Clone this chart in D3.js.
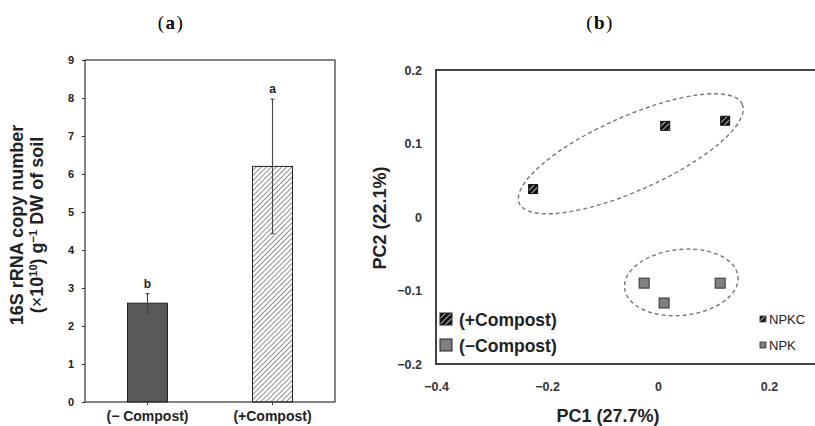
<!DOCTYPE html>
<html>
<head>
<meta charset="utf-8">
<script src="https://cdn.jsdelivr.net/npm/d3@7"></script>
<style>
  body { margin: 0; background: #fff; }
  svg { display: block; font-family: "Liberation Sans", Arial, sans-serif; }
</style>
</head>
<body>
<svg width="815" height="426"></svg>
<script>
// ---- data, panel (a)
const groups = ['(− Compost)', '(+Compost)'];
const copyNumber = [2.6, 6.2];
const copyErr = [0.25, 1.77];
const letters = ['b', 'a'];
const yTicksA = [0, 1, 2, 3, 4, 5, 6, 7, 8, 9];

// ---- data, panel (b)
const plusPC1 = [-0.225, 0.013, 0.121];
const plusPC2 = [0.038, 0.124, 0.131];
const minusPC1 = [-0.025, 0.011, 0.112];
const minusPC2 = [-0.090, -0.117, -0.090];
const xTicksB = [-0.4, -0.2, 0, 0.2];
const yTicksB = [-0.2, -0.1, 0, 0.1, 0.2];
// ellipse centres (PC1, PC2)
const ellCx = [-0.049, 0.042];
const ellCy = [0.086, -0.089];

const svg = d3.select('svg');
const defs = svg.append('defs');

defs.append('pattern')
    .attr('id', 'barHatch')
    .attr('patternUnits', 'userSpaceOnUse')
    .attr('width', 3.6).attr('height', 3.6)
    .attr('patternTransform', 'rotate(45)')
    .call(p => {
        p.append('rect').attr('width', 3.6).attr('height', 3.6).attr('fill', '#fff');
        p.append('line').attr('x1', 0).attr('y1', 0).attr('x2', 0).attr('y2', 3.6)
            .attr('stroke', '#555').attr('stroke-width', 1.3);
    });

defs.append('pattern')
    .attr('id', 'dotHatch')
    .attr('patternUnits', 'userSpaceOnUse')
    .attr('width', 4).attr('height', 4)
    .attr('patternTransform', 'rotate(45)')
    .call(p => {
        p.append('rect').attr('width', 4).attr('height', 4).attr('fill', '#111');
        p.append('line').attr('x1', 0).attr('y1', 0).attr('x2', 0).attr('y2', 4)
            .attr('stroke', '#fff').attr('stroke-width', 1.4);
    });

// ================= panel (a)
const a = {l: 85, r: 335, t: 60, b: 402};

const xA = d3.scaleBand()
    .domain(groups)
    .range([a.l, a.r])
    .paddingInner(0.68)
    .paddingOuter(0.34);

const yA = d3.scaleLinear()
    .domain([0, 9])
    .range([a.b, a.t]);

svg.append('text')
    .attr('x', 171).attr('y', 29)
    .attr('text-anchor', 'middle')
    .style('font-family', '"Liberation Serif", serif')
    .style('font-size', '19px')
    .style('letter-spacing', '1.5px')
    .html('(<tspan font-weight="bold">a</tspan>)');

// bars
svg.append('g').selectAll('rect')
    .data(groups)
    .join('rect')
    .attr('x', d => xA(d))
    .attr('width', xA.bandwidth())
    .attr('y', (d, i) => yA(copyNumber[i]))
    .attr('height', (d, i) => yA(0) - yA(copyNumber[i]))
    .attr('fill', (d, i) => i === 0 ? '#595959' : 'url(#barHatch)')
    .attr('stroke', '#222')
    .attr('stroke-width', 1);

// frame
svg.append('rect')
    .attr('x', a.l).attr('y', a.t)
    .attr('width', a.r - a.l).attr('height', a.b - a.t)
    .attr('fill', 'none').attr('stroke', '#333').attr('stroke-width', 1.2);

// error bars
const errG = svg.append('g').attr('stroke', '#444').attr('stroke-width', 1.1);
groups.forEach((g, i) => {
    const cx = xA(g) + xA.bandwidth() / 2;
    const hi = yA(copyNumber[i] + copyErr[i]);
    const lo = yA(copyNumber[i] - copyErr[i]);
    errG.append('line').attr('x1', cx).attr('x2', cx).attr('y1', hi).attr('y2', lo);
    errG.append('line').attr('x1', cx - 2).attr('x2', cx + 2).attr('y1', hi).attr('y2', hi);
    errG.append('line').attr('x1', cx - 2).attr('x2', cx + 2).attr('y1', lo).attr('y2', lo);
    svg.append('text')
        .attr('x', cx).attr('y', hi - 6)
        .attr('text-anchor', 'middle')
        .style('font-size', '12px').style('font-weight', 'bold')
        .attr('fill', '#222')
        .text(letters[i]);
});

// axes
const axisYA = svg.append('g')
    .attr('transform', `translate(${a.l},0)`)
    .call(d3.axisLeft(yA).tickValues(yTicksA).tickSize(3).tickPadding(8));
axisYA.select('.domain').remove();
axisYA.selectAll('text')
    .style('font-size', '11px').style('font-weight', 'bold')
    .style('font-family', '"Liberation Sans", Arial, sans-serif')
    .attr('fill', '#222');
axisYA.selectAll('line').attr('stroke', '#333');

const axisXA = svg.append('g')
    .attr('transform', `translate(0,${a.b})`)
    .call(d3.axisBottom(xA).tickSize(3).tickPadding(6));
axisXA.select('.domain').remove();
axisXA.selectAll('text')
    .style('font-size', '14px').style('font-weight', 'bold')
    .style('font-family', '"Liberation Sans", Arial, sans-serif')
    .attr('fill', '#222');
axisXA.selectAll('line').attr('stroke', '#333');

const titleA = svg.append('text')
    .attr('transform', 'translate(0,225) rotate(-90)')
    .attr('text-anchor', 'middle')
    .style('font-size', '18px').style('font-weight', 'bold')
    .attr('fill', '#222');
titleA.append('tspan').attr('x', 0).attr('y', 23).text('16S rRNA copy number');
titleA.append('tspan').attr('x', 0).attr('y', 43)
    .html('(<tspan font-weight="normal">×</tspan>10<tspan dy="-6" font-size="11px">10</tspan><tspan dy="6">) g</tspan><tspan dy="-6" font-size="11px">−1</tspan><tspan dy="6"> DW of soil</tspan>');

// ================= panel (b)
const b = {l: 436, t: 70, b: 364};

const xB = d3.scaleLinear()
    .domain([-0.4, 0.2])
    .range([436, 769]);
const yB = d3.scaleLinear()
    .domain([-0.2, 0.2])
    .range([b.b, b.t]);

const fmtB = d => d === 0 ? '0' : d3.format('.1f')(d);

svg.append('text')
    .attr('x', 600).attr('y', 29)
    .attr('text-anchor', 'middle')
    .style('font-family', '"Liberation Serif", serif')
    .style('font-size', '19px')
    .style('letter-spacing', '1.5px')
    .html('(<tspan font-weight="bold">b</tspan>)');

// ellipses (dashed)
const ellSpec = [
    {rx: 122, ry: 37, rot: -24},
    {rx: 57, ry: 33, rot: -6}
];
svg.append('g').selectAll('ellipse')
    .data(ellSpec)
    .join('ellipse')
    .attr('transform', (d, i) => `translate(${xB(ellCx[i])},${yB(ellCy[i])}) rotate(${d.rot})`)
    .attr('rx', d => d.rx).attr('ry', d => d.ry)
    .attr('fill', 'none')
    .attr('stroke', '#777')
    .attr('stroke-width', 1.4)
    .attr('stroke-dasharray', '4 3');

// points
svg.append('g').selectAll('rect')
    .data(plusPC1)
    .join('rect')
    .attr('x', (d, i) => xB(d) - 4.5)
    .attr('y', (d, i) => yB(plusPC2[i]) - 4.5)
    .attr('width', 9).attr('height', 9)
    .attr('fill', 'url(#dotHatch)')
    .attr('stroke', '#111').attr('stroke-width', 1);

svg.append('g').selectAll('rect')
    .data(minusPC1)
    .join('rect')
    .attr('x', (d, i) => xB(d) - 5)
    .attr('y', (d, i) => yB(minusPC2[i]) - 5)
    .attr('width', 10).attr('height', 10)
    .attr('fill', '#808080')
    .attr('stroke', '#333').attr('stroke-width', 1);

// frame: left, top, bottom (right edge runs off the picture)
const frameB = svg.append('g').attr('stroke', '#444').attr('stroke-width', 2);
frameB.append('line').attr('x1', b.l).attr('x2', 815).attr('y1', b.t).attr('y2', b.t);
frameB.append('line').attr('x1', b.l).attr('x2', 815).attr('y1', b.b).attr('y2', b.b);
frameB.append('line').attr('x1', b.l).attr('x2', b.l).attr('y1', b.t - 1).attr('y2', b.b + 1);

const axisYB = svg.append('g')
    .attr('transform', `translate(${b.l},0)`)
    .call(d3.axisLeft(yB).tickValues(yTicksB).tickFormat(fmtB).tickSize(0).tickPadding(14));
axisYB.select('.domain').remove();
axisYB.selectAll('text')
    .style('font-size', '12.5px').style('font-weight', 'bold')
    .style('font-family', '"Liberation Sans", Arial, sans-serif')
    .attr('fill', '#333');

const axisXB = svg.append('g')
    .attr('transform', `translate(0,${b.b})`)
    .call(d3.axisBottom(xB).tickValues(xTicksB).tickFormat(fmtB).tickSize(0).tickPadding(18));
axisXB.select('.domain').remove();
axisXB.selectAll('text')
    .style('font-size', '12.5px').style('font-weight', 'bold')
    .style('font-family', '"Liberation Sans", Arial, sans-serif')
    .attr('fill', '#333');

svg.append('text')
    .attr('x', 608).attr('y', 422)
    .attr('text-anchor', 'middle')
    .style('font-size', '18px').style('font-weight', 'bold')
    .attr('fill', '#222')
    .text('PC1 (27.7%)');

svg.append('text')
    .attr('transform', 'translate(386,218) rotate(-90)')
    .attr('text-anchor', 'middle')
    .style('font-size', '18px').style('font-weight', 'bold')
    .attr('fill', '#222')
    .text('PC2 (22.1%)');

// big legend inside the plot
const legend = [
    {label: '(+Compost)', fill: 'url(#dotHatch)', y: 319, small: 'NPKC'},
    {label: '(−Compost)', fill: '#808080', y: 345, small: 'NPK'}
];
legend.forEach(d => {
    svg.append('rect')
        .attr('x', 440).attr('y', d.y - 6)
        .attr('width', 12).attr('height', 12)
        .attr('fill', d.fill).attr('stroke', '#222').attr('stroke-width', 1);
    svg.append('text')
        .attr('x', 459).attr('y', d.y + 6.5)
        .style('font-size', '17.5px').style('font-weight', 'bold')
        .attr('fill', '#222')
        .text(d.label);
    svg.append('rect')
        .attr('x', 760).attr('y', d.y - 3)
        .attr('width', 6).attr('height', 6)
        .attr('fill', d.fill).attr('stroke', '#333').attr('stroke-width', 0.8);
    svg.append('text')
        .attr('x', 769).attr('y', d.y + 4.5)
        .style('font-size', '13px')
        .attr('fill', '#222')
        .text(d.small);
});
</script>
</body>
</html>
